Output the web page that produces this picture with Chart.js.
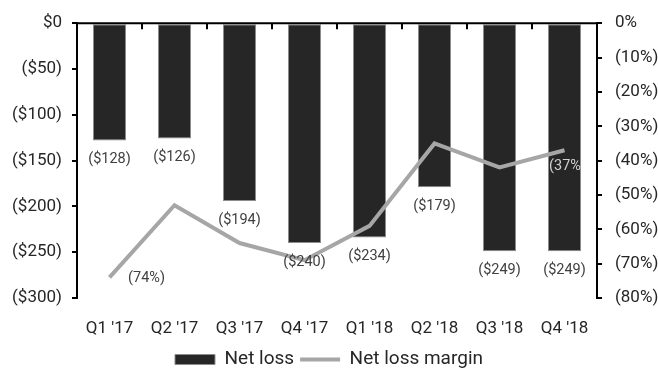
<!DOCTYPE html>
<html>
<head>
<meta charset="utf-8">
<script src="https://cdn.jsdelivr.net/npm/chart.js@4.4.0/dist/chart.umd.min.js"></script>
<style>
  html, body { margin: 0; padding: 0; background: #fff; }
  #wrap { width: 658px; height: 369px; }
</style>
</head>
<body>
<div id="wrap"><canvas id="myChart" width="658" height="369"></canvas></div>
<script>
// quarters
const quarters = ["Q1 '17", "Q2 '17", "Q3 '17", "Q4 '17", "Q1 '18", "Q2 '18", "Q3 '18", "Q4 '18"];
// net loss in $M (negative)
const netLoss = [-128, -126, -194, -240, -234, -179, -249, -249];
// net loss margin in %
const lossMargin = [-74, -53, -64, -69, -59, -35, -42, -37];
// which margin points get a label
const marginLabelIdx = [0, 7];

const leftTicks = { min: -300, max: 0, step: 50 };
const rightTicks = { min: -80, max: 0, step: 10 };

function money(v) {
    return v === 0 ? '$0' : '($' + Math.abs(v) + ')';
}
function pct(v) {
    return v === 0 ? '0%' : '(' + Math.abs(v) + '%)';
}

const FONT = 'Roboto, "DejaVu Sans", sans-serif';

// draws the top axis line (at $0) with small ticks between the bars
const topAxis = {
    id: 'topAxis',
    afterDatasetsDraw(chart) {
        const ctx = chart.ctx;
        const x = chart.scales.x;
        const y = chart.scales.y;
        const top = y.getPixelForValue(0);
        const step = x.getPixelForValue(1) - x.getPixelForValue(0);
        ctx.save();
        ctx.strokeStyle = '#000';
        ctx.lineWidth = 2;
        ctx.beginPath();
        ctx.moveTo(chart.chartArea.left, top);
        ctx.lineTo(chart.chartArea.right, top);
        for (let i = 0; i < quarters.length - 1; i++) {
            const px = Math.round(x.getPixelForValue(i) + step / 2);
            ctx.moveTo(px, top);
            ctx.lineTo(px, top + 6);
        }
        ctx.stroke();
        ctx.restore();
    }
};

// value labels
const valueLabels = {
    id: 'valueLabels',
    afterDatasetsDraw(chart) {
        const ctx = chart.ctx;
        ctx.save();
        ctx.font = '14.5px ' + FONT;
        ctx.textAlign = 'center';
        ctx.textBaseline = 'middle';

        const bars = chart.getDatasetMeta(0).data;
        bars.forEach((bar, i) => {
            ctx.fillStyle = '#404040';
            ctx.fillText(money(netLoss[i]), bar.x, bar.y + 19);
        });

        const pts = chart.getDatasetMeta(1).data;
        marginLabelIdx.forEach((i) => {
            const p = pts[i];
            if (i === 0) {
                ctx.fillStyle = '#404040';
                ctx.fillText(pct(lossMargin[i]), p.x + 37, p.y + 1);
            } else {
                // sits on the dark bar and is cut at its edge
                const b = bars[i];
                ctx.save();
                ctx.beginPath();
                ctx.rect(b.x - b.width / 2 - 20, p.y, b.width + 20, 40);
                ctx.clip();
                ctx.fillStyle = '#d0d0d0';
                ctx.fillText(pct(lossMargin[i]), p.x + 3, p.y + 16);
                ctx.restore();
            }
        });
        ctx.restore();
    }
};

const ctx = document.getElementById('myChart');

const myChart = new Chart(ctx, {
    type: 'bar',
    data: {
        labels: quarters,
        datasets: [{
            label: 'Net loss',
            data: netLoss,
            backgroundColor: '#262626',
            borderColor: '#8c8c8c',
            borderWidth: 1,
            borderSkipped: false,
            categoryPercentage: 1,
            barPercentage: 0.51,
            pointStyle: 'rect',
            yAxisID: 'y',
            order: 1
        }, {
            type: 'line',
            label: 'Net loss margin',
            data: lossMargin,
            borderColor: '#a6a6a6',
            backgroundColor: '#a6a6a6',
            borderWidth: 4,
            pointRadius: 0,
            pointStyle: 'line',
            tension: 0,
            yAxisID: 'y2',
            order: 0
        }]
    },
    options: {
        responsive: false,
        animation: false,
        events: [],
        layout: {
            padding: { top: 18, right: 0, left: 0, bottom: -10 }
        },
        plugins: {
            tooltip: { enabled: false },
            legend: {
                position: 'bottom',
                labels: {
                    usePointStyle: true,
                    pointStyleWidth: 40,
                    boxWidth: 32,
                    boxHeight: 10,
                    padding: 6,
                    color: '#262626',
                    font: { family: FONT, size: 19 },
                    sort: (a, b) => a.datasetIndex - b.datasetIndex
                }
            }
        },
        scales: {
            x: {
                grid: { display: false },
                border: { display: false },
                ticks: {
                    color: '#262626',
                    padding: 13,
                    font: { family: FONT, size: 17 }
                },
                afterFit: (scale) => { scale.height = 46; }
            },
            y: {
                position: 'left',
                min: leftTicks.min,
                max: leftTicks.max,
                grid: {
                    drawOnChartArea: false,
                    tickLength: 5,
                    color: '#000',
                    lineWidth: 2
                },
                border: { display: true, color: '#000', width: 2 },
                ticks: {
                    stepSize: leftTicks.step,
                    color: '#262626',
                    padding: 10,
                    font: { family: FONT, size: 17 },
                    callback: (v) => money(v)
                },
                afterFit: (scale) => { scale.width = 77; }
            },
            y2: {
                position: 'right',
                min: rightTicks.min,
                max: rightTicks.max,
                grid: {
                    drawOnChartArea: false,
                    tickLength: 5,
                    color: '#000',
                    lineWidth: 2
                },
                border: { display: true, color: '#000', width: 2 },
                ticks: {
                    stepSize: rightTicks.step,
                    color: '#262626',
                    padding: 13,
                    font: { family: FONT, size: 17 },
                    callback: (v) => pct(v)
                },
                afterFit: (scale) => { scale.width = 61; }
            }
        }
    },
    plugins: [topAxis, valueLabels]
});
</script>
</body>
</html>
